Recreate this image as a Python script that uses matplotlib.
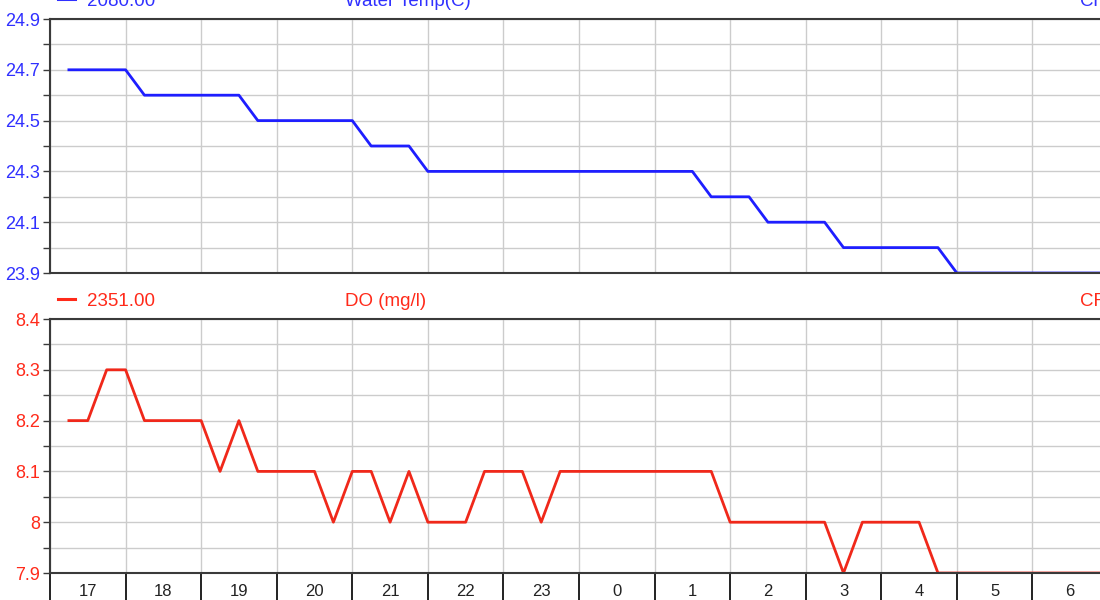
import matplotlib
matplotlib.use("Agg")
import matplotlib.pyplot as plt
from matplotlib.lines import Line2D
from matplotlib.ticker import MultipleLocator, FixedLocator, FuncFormatter

plt.rcParams['font.family'] = ['Liberation Sans', 'DejaVu Sans']

# hours after 17:00
temp_hours = [0.25, 1.0, 1.25, 2.5, 2.75, 4.0, 4.25, 4.75, 5.0, 8.5, 8.75,
              9.25, 9.5, 10.25, 10.5, 11.75, 12.0, 14.0]
temp_values = [24.7, 24.7, 24.6, 24.6, 24.5, 24.5, 24.4, 24.4, 24.3, 24.3, 24.2,
               24.2, 24.1, 24.1, 24.0, 24.0, 23.9, 23.9]

do_hours = [0.25, 0.5, 0.75, 1.0, 1.25, 2.0, 2.25, 2.5, 2.75, 3.5, 3.75, 4.0,
            4.25, 4.5, 4.75, 5.0, 5.5, 5.75, 6.25, 6.5, 6.75, 8.75, 9.0,
            10.25, 10.5, 10.75, 11.5, 11.75, 14.0]
do_values = [8.2, 8.2, 8.3, 8.3, 8.2, 8.2, 8.1, 8.2, 8.1, 8.1, 8.0, 8.1,
             8.1, 8.0, 8.1, 8.0, 8.0, 8.1, 8.1, 8.0, 8.1, 8.1, 8.0,
             8.0, 7.9, 8.0, 8.0, 7.9, 7.9]

hour_labels = ["17", "18", "19", "20", "21", "22", "23", "0", "1", "2", "3", "4", "5", "6"]

temp_ticks = [23.9, 24.1, 24.3, 24.5, 24.7, 24.9]
do_ticks = [7.9, 8.0, 8.1, 8.2, 8.3, 8.4]

temp_name = "Water Temp(C)"
temp_stat = "2080.00"
do_name = "DO (mg/l)"
do_stat = "2351.00"

BLUE = "#1e1eff"
BLUE_TXT = "#3030ff"
RED = "#f0281a"
RED_TXT = "#ff2a1a"
GRID = "#cccccc"
SPINE = "#3a3a3a"

W, H = 1100, 600
fig = plt.figure(figsize=(W / 100, H / 100), dpi=100)


def px_box(left, top, right, bottom):
    return [left / W, 1 - bottom / H, (right - left) / W, (bottom - top) / H]


def style_axes(ax, ticks, step, color):
    ax.set_xlim(0, 14)
    ax.set_ylim(ticks[0], ticks[-1])
    ax.yaxis.set_major_locator(FixedLocator(ticks))
    ax.yaxis.set_minor_locator(MultipleLocator(step))
    ax.yaxis.set_major_formatter(FuncFormatter(lambda v, p: "%g" % round(v, 2)))
    ax.tick_params(axis="y", which="both", direction="out", length=5, width=1,
                   color=SPINE, labelcolor=color, labelsize=13, pad=2)
    ax.xaxis.set_major_locator(MultipleLocator(1))
    ax.grid(True, which="both", axis="y", color=GRID, linewidth=1)
    ax.grid(True, which="major", axis="x", color=GRID, linewidth=1)
    for side in ["top", "bottom", "left"]:
        ax.spines[side].set_color(SPINE)
        ax.spines[side].set_linewidth(1.5)
    ax.spines["right"].set_visible(False)
    ax.set_axisbelow(True)


# top panel: water temperature
ax1 = fig.add_axes(px_box(50, 19, 1108, 273))
style_axes(ax1, temp_ticks, 0.1, BLUE_TXT)
ax1.tick_params(axis="x", which="both", length=0, labelbottom=False)
ax1.plot(temp_hours, temp_values, color=BLUE, linewidth=2.0, solid_joinstyle="round")

# bottom panel: dissolved oxygen
ax2 = fig.add_axes(px_box(50, 319, 1108, 573))
style_axes(ax2, do_ticks, 0.05, RED_TXT)
ax2.tick_params(axis="x", which="major", direction="out", length=22, width=1.3,
                color="#111111", labelbottom=False)
ax2.xaxis.set_minor_locator(FixedLocator([i + 0.5 for i in range(len(hour_labels))]))
ax2.xaxis.set_minor_formatter(FuncFormatter(lambda v, p: hour_labels[int(v)]))
ax2.tick_params(axis="x", which="minor", length=0, labelsize=12,
                labelcolor="#222222", pad=8)
ax2.plot(do_hours, do_values, color=RED, linewidth=2.0, solid_joinstyle="round")

# headers above each panel (the top one is clipped by the figure edge, as in the source)
for top, color, stat, name, tail in [(19, BLUE_TXT, temp_stat, temp_name, "Cr"),
                                     (319, RED_TXT, do_stat, do_name, "CR")]:
    base = 1 - (top - 13) / H
    dash_y = 1 - (top - 20) / H
    fig.add_artist(Line2D([58 / W, 75 / W], [dash_y, dash_y], color=color, linewidth=2.2))
    fig.text(87 / W, base, stat, color=color, fontsize=13.5, va="baseline")
    fig.text(345 / W, base, name, color=color, fontsize=13.5, va="baseline")
    fig.text(1080 / W, base, tail, color=color, fontsize=13.5, va="baseline")

fig.savefig("out.png", dpi=100)
